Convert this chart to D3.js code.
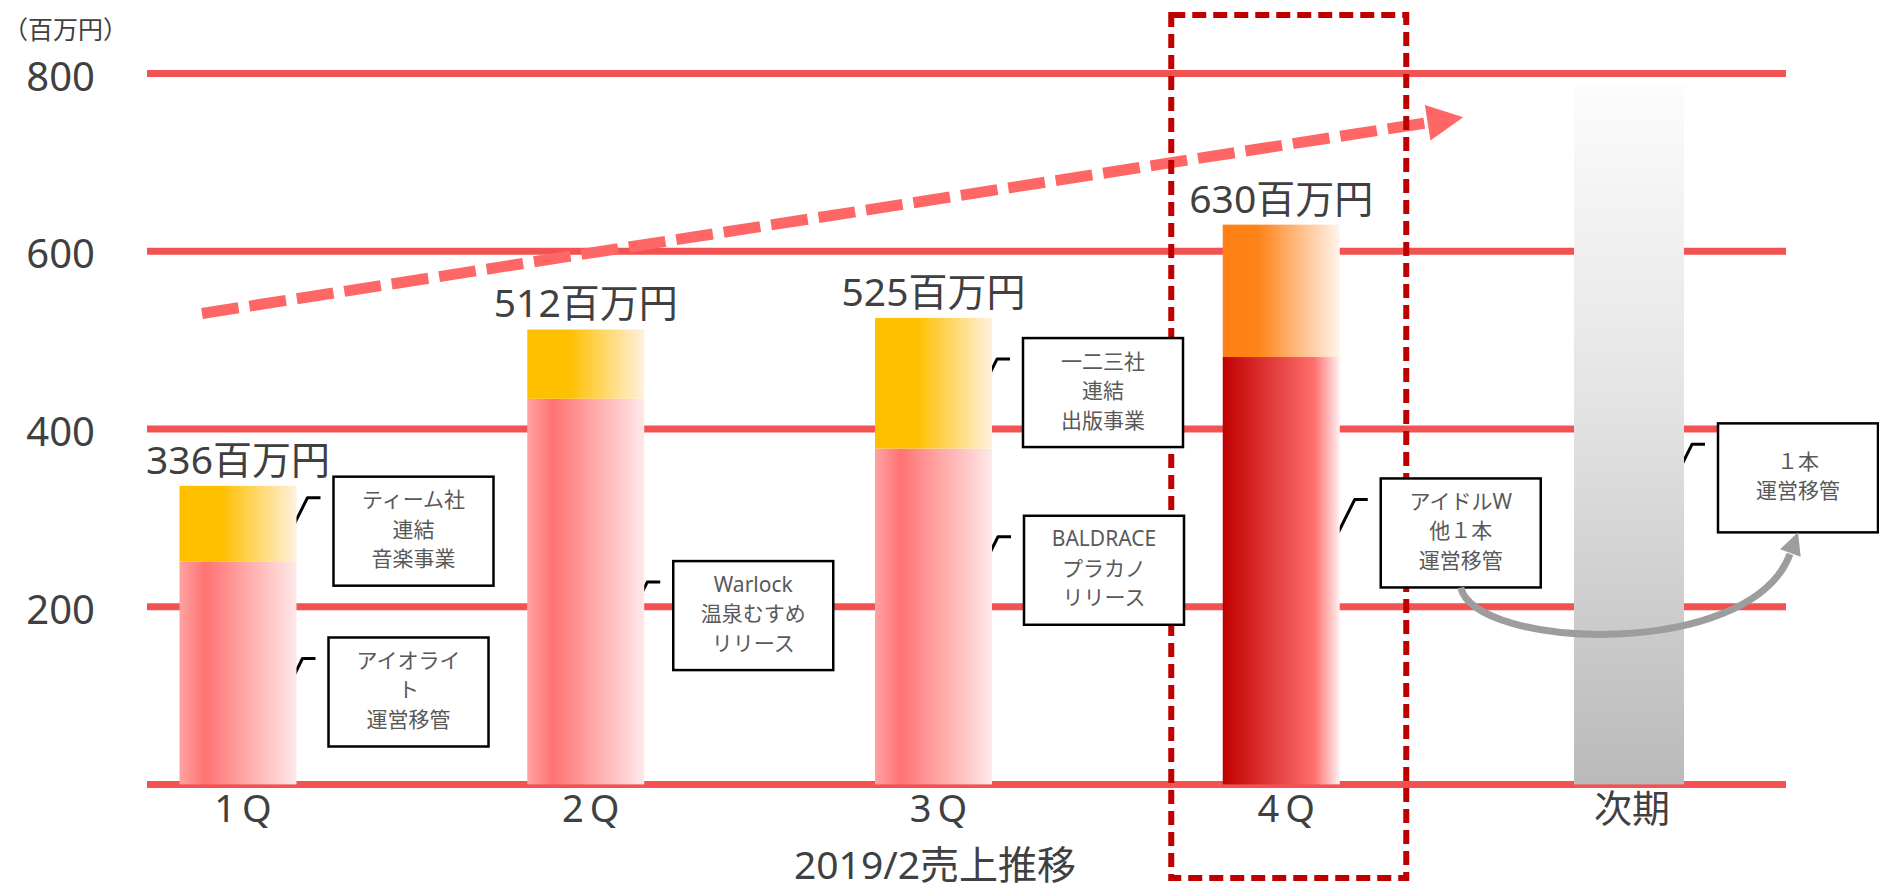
<!DOCTYPE html>
<html lang="ja">
<head>
<meta charset="utf-8">
<script src="https://cdn.jsdelivr.net/npm/d3@7"></script>
<style>
  html, body { margin: 0; padding: 0; background: #fff; }
  svg { display: block; font-family: "Noto Sans", "Noto Sans CJK JP", sans-serif; }
</style>
</head>
<body>
<svg id="chart" width="1879" height="890"></svg>
<script>
// 四半期売上（百万円）
const categories = ["1Q", "2Q", "3Q", "4Q", "次期"];
const quarters = ["1Q", "2Q", "3Q", "4Q"];
const baseSales = [251, 434, 378, 481];   // 既存事業
const addedSales = [85, 78, 147, 149];    // 連結・追加分
const nextPeriodSales = 787;              // 次期（数値は非表示）
const yTicks = [200, 400, 600, 800];
const gridValues = [0, 200, 400, 600, 800];
const unitLabel = "（百万円）";
const axisTitle = "2019/2売上推移";
const valueSuffix = "百万円";

// 吹き出しの文言
const noteCategories = ["1Q", "1Q", "2Q", "3Q", "3Q", "4Q", "次期"];
const noteTexts = [
  ["ティーム社", "連結", "音楽事業"],
  ["アイオライ", "ト", "運営移管"],
  ["Warlock", "温泉むすめ", "リリース"],
  ["一二三社", "連結", "出版事業"],
  ["BALDRACE", "プラカノ", "リリース"],
  ["アイドルW", "他１本", "運営移管"],
  ["１本", "運営移管"]
];

// 吹き出しの配置（棒の右端からの距離と、箱の中心の高さ）
const noteLayout = [
  { dx: 37, level: 285 },
  { dx: 32, level: 104 },
  { dx: 29, level: 190 },
  { dx: 31, level: 441 },
  { dx: 32, level: 241 },
  { dx: 41, level: 283 },
  { dx: 34, level: 345 }
];

const W = 1879, H = 890;
const svg = d3.select("#chart");
const defs = svg.append("defs");

const x = d3.scalePoint().domain(categories).range([238, 1629]);
const y = d3.scaleLinear().domain([0, 800]).range([784.4, 73.6]);
const gridX = [147, 1786];
const barW = 117, nextBarW = 110;
const textDark = "#404040", textGray = "#595959";
const gridColor = "#f25252";

// グラデーション
function hGrad(id, stops) {
  const g = defs.append("linearGradient").attr("id", id)
    .attr("x1", "0").attr("y1", "0").attr("x2", "1").attr("y2", "0");
  stops.forEach(([o, c]) => g.append("stop").attr("offset", o).attr("stop-color", c));
}
hGrad("gBase", [[0, "#ffa2a2"], [0.22, "#ff7373"], [1, "#ffe9e9"]]);
hGrad("gAdd", [[0, "#ffc000"], [0.36, "#ffc000"], [1, "#fff1de"]]);
hGrad("gBaseHi", [[0, "#c00000"], [0.78, "#ff6e6e"], [1, "#fff2f2"]]);
hGrad("gAddHi", [[0, "#ff7f14"], [0.3, "#ff8318"], [1, "#fff4ec"]]);
const vg = defs.append("linearGradient").attr("id", "gNext")
  .attr("x1", "0").attr("y1", "0").attr("x2", "0").attr("y2", "1");
[[0, "#fcfcfc"], [0.45, "#e4e4e4"], [1, "#bababa"]]
  .forEach(([o, c]) => vg.append("stop").attr("offset", o).attr("stop-color", c));

// 目盛り線
svg.append("g").selectAll("line").data(gridValues).join("line")
  .attr("x1", gridX[0]).attr("x2", gridX[1])
  .attr("y1", d => y(d)).attr("y2", d => y(d))
  .attr("stroke", gridColor).attr("stroke-width", 7);

// 縦軸ラベル
svg.append("g").selectAll("text").data(yTicks).join("text")
  .attr("x", 95).attr("y", d => y(d) + 17)
  .attr("text-anchor", "end").attr("font-size", 40).attr("fill", textDark)
  .text(d => d);

svg.append("text").attr("x", 3).attr("y", 39)
  .attr("font-size", 25).attr("fill", textDark).text(unitLabel);

// 成長トレンドの矢印
const tStart = [x("1Q") - 36, y(530)];
const tTip = [x("4Q") + 182, y(751)];
{
  const dx = tTip[0] - tStart[0], dy = tTip[1] - tStart[1];
  const len = Math.hypot(dx, dy), ux = dx / len, uy = dy / len;
  const headLen = 36, headHalf = 18;
  const base = [tTip[0] - ux * headLen, tTip[1] - uy * headLen];
  svg.append("line")
    .attr("x1", tStart[0]).attr("y1", tStart[1])
    .attr("x2", base[0] + ux * 2).attr("y2", base[1] + uy * 2)
    .attr("stroke", "#ff6666").attr("stroke-width", 11)
    .attr("stroke-dasharray", "37 11");
  svg.append("polygon")
    .attr("points", [
      tTip,
      [base[0] - uy * headHalf, base[1] + ux * headHalf],
      [base[0] + uy * headHalf, base[1] - ux * headHalf]
    ].map(p => p.join(",")).join(" "))
    .attr("fill", "#ff6666");
}

// 4Q強調枠
svg.append("rect")
  .attr("x", x("4Q") - 110).attr("y", 15)
  .attr("width", 235).attr("height", 863)
  .attr("fill", "none").attr("stroke", "#c00000")
  .attr("stroke-width", 6).attr("stroke-dasharray", "14 7");

// 吹き出しの位置
const barHalf = c => (c === "次期" ? nextBarW : barW) / 2;
const boxW = 160, boxH = 109;
const notes = noteTexts.map((lines, i) => {
  const c = noteCategories[i];
  const bx = x(c) + barHalf(c) + noteLayout[i].dx;
  const by = y(noteLayout[i].level) - boxH / 2;
  return { lines, bx, by };
});

// 引き出し線（棒の後ろ）
svg.append("g").selectAll("path").data(notes).join("path")
  .attr("d", d => `M${d.bx - 13},${d.by + 21}H${d.bx - 26}L${d.bx - 46},${d.by + 61}`)
  .attr("fill", "none").attr("stroke", "#000").attr("stroke-width", 3)
  .attr("stroke-linejoin", "round");

// 棒グラフ
const stacked = quarters.map((q, i) => ({
  q, base: baseSales[i], add: addedSales[i], total: baseSales[i] + addedSales[i],
  hi: q === "4Q"
}));
const bars = svg.append("g");
bars.selectAll("rect.base").data(stacked).join("rect").attr("class", "base")
  .attr("x", d => x(d.q) - barW / 2).attr("width", barW)
  .attr("y", d => y(d.base)).attr("height", d => y(0) - y(d.base))
  .attr("fill", d => d.hi ? "url(#gBaseHi)" : "url(#gBase)");
bars.selectAll("rect.add").data(stacked).join("rect").attr("class", "add")
  .attr("x", d => x(d.q) - barW / 2).attr("width", barW)
  .attr("y", d => y(d.total)).attr("height", d => y(d.base) - y(d.total))
  .attr("fill", d => d.hi ? "url(#gAddHi)" : "url(#gAdd)");
bars.append("rect")
  .attr("x", x("次期") - nextBarW / 2).attr("width", nextBarW)
  .attr("y", y(nextPeriodSales)).attr("height", y(0) - y(nextPeriodSales))
  .attr("fill", "url(#gNext)");

// 売上額ラベル
svg.append("g").selectAll("text").data(stacked).join("text")
  .attr("x", d => x(d.q)).attr("y", d => y(d.total) - 12)
  .attr("text-anchor", "middle").attr("font-size", 39).attr("fill", textDark)
  .text(d => d.total + valueSuffix);

// 吹き出し
const ng = svg.append("g").selectAll("g").data(notes).join("g");
ng.append("rect")
  .attr("x", d => d.bx).attr("y", d => d.by)
  .attr("width", boxW).attr("height", boxH)
  .attr("fill", "#fff").attr("stroke", "#000").attr("stroke-width", 2.5);
ng.each(function (d) {
  const n = d.lines.length, lh = 29.5;
  const cx = d.bx + boxW / 2;
  d3.select(this).selectAll("text").data(d.lines).join("text")
    .attr("x", cx)
    .attr("y", (s, i) => d.by + 52.5 - (n - 1) / 2 * lh + i * lh + 7.5)
    .attr("text-anchor", "middle").attr("font-size", 21).attr("fill", textGray)
    .text(s => s);
});

// 横軸ラベル
svg.append("g").selectAll("text").data(categories).join("text")
  .attr("x", d => x(d) + (d.endsWith("Q") ? 8 : 3)).attr("y", 822)
  .attr("text-anchor", "middle").attr("font-size", 38).attr("fill", textDark)
  .attr("letter-spacing", d => d.endsWith("Q") ? 6 : 0)
  .text(d => d);

svg.append("text").attr("x", 935).attr("y", 879)
  .attr("text-anchor", "middle").attr("font-size", 39).attr("fill", textDark)
  .text(axisTitle);

// 4Qから次期への移管を示す矢印
{
  const from = notes[5], to = notes[6];
  const s = [from.bx + boxW / 2, from.by + boxH];
  const tip = [to.bx + boxW / 2, to.by + boxH];
  const c2dir = [40, -108];
  const l = Math.hypot(...c2dir), ux = c2dir[0] / l, uy = c2dir[1] / l;
  const headLen = 22, headHalf = 11;
  const base = [tip[0] - ux * headLen, tip[1] - uy * headLen];
  const c1 = [s[0] + 14, s[1] + 62];
  const c2 = [base[0] - c2dir[0], base[1] - c2dir[1]];
  svg.append("path")
    .attr("d", `M${s}C${c1} ${c2} ${base[0] - ux * 1},${base[1] - uy * 1}`)
    .attr("fill", "none").attr("stroke", "#9d9d9d").attr("stroke-width", 7);
  svg.append("polygon")
    .attr("points", [
      tip,
      [base[0] - uy * headHalf, base[1] + ux * headHalf],
      [base[0] + uy * headHalf, base[1] - ux * headHalf]
    ].map(p => p.join(",")).join(" "))
    .attr("fill", "#9d9d9d");
}
</script>
</body>
</html>
